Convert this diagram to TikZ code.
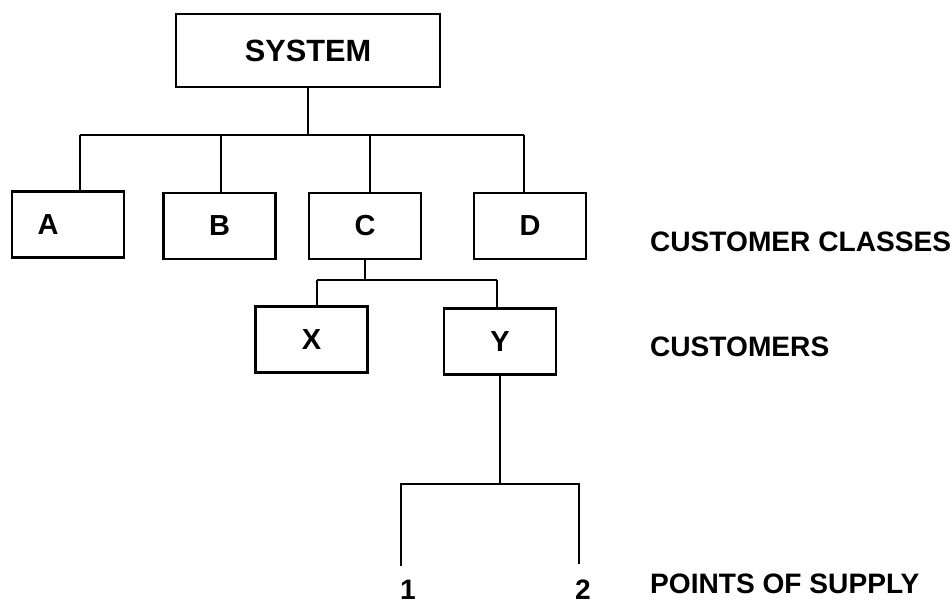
\documentclass[tikz,border=0pt]{standalone}
\usepackage{fontspec}
\setmainfont{Liberation Sans}
\usepackage{tikz}
\tikzset{box/.style = {draw, rectangle, line width = 1.3pt, inner sep = 0,
                       minimum width = 2.24cm, minimum height = 1.32cm,
                       font = \fontsize{16.5}{19}\selectfont\bfseries}}
\tikzset{lbl/.style = {anchor = west, inner sep = 0,
                       font = \fontsize{16}{19}\selectfont\bfseries}}
\tikzset{digit/.style = {anchor = north, inner sep = 0,
                         font = \fontsize{16}{19}\selectfont\bfseries}}

\begin{document}
\begin{tikzpicture}[line width = 1.3pt]
      \useasboundingbox (0, 0) rectangle (19.04, 12.12);

      \node [box, minimum width = 5.28cm, minimum height = 1.46cm,
             font = \fontsize{17.5}{20}\selectfont\bfseries] (sys) at (6.16, 11.11) {SYSTEM};

      \node [box, label = {[xshift = -0.4cm, font = \fontsize{16.5}{19}\selectfont\bfseries]center:A}] (a) at (1.36, 7.63) {};
      \node [box] (b) at (4.39, 7.60) {B};
      \node [box] (c) at (7.30, 7.60) {C};
      \node [box] (d) at (10.60, 7.60) {D};

      \node [box] (x) at (6.23, 5.33) {X};
      \node [box] (y) at (10.00, 5.29) {Y};

      \node [lbl] (classes) at (12.98, 7.28) {CUSTOMER CLASSES};
      \node [lbl] (customers) at (12.98, 5.18) {CUSTOMERS};
      \node [lbl] (supply) at (12.98, 0.44) {POINTS OF SUPPLY};

      % first level
      \coordinate (ta) at (1.60, 9.42);
      \coordinate (tb) at (4.42, 9.42);
      \coordinate (tc) at (7.40, 9.42);
      \coordinate (td) at (10.48, 9.42);
      \draw (ta) -- (td);
      \draw (sys.south) -- (sys.south |- ta);
      \foreach \n in {a, b, c, d}
        \draw (t\n) -- (t\n |- \n.north);

      % customers of class C
      \coordinate (tx) at (6.34, 6.52);
      \coordinate (ty) at (9.94, 6.52);
      \draw (tx) -- (ty);
      \draw (c.south) -- (c.south |- tx);
      \draw (tx) -- (tx |- x.north);
      \draw (ty) -- (ty |- y.north);

      % supply points of Y
      \coordinate (p1) at (8.02, 2.44);
      \coordinate (p2) at (11.58, 2.44);
      \coordinate (e1) at (8.02, 0.80);
      \coordinate (e2) at (11.58, 0.84);
      \draw (y.south) -- (y.south |- p1);
      \draw (e1) -- (p1) -- (p2) -- (e2);

      \node [digit] (one) at (8.16, 0.54) {1};
      \node [digit] (two) at (11.66, 0.54) {2};
    \end{tikzpicture}
\end{document}
